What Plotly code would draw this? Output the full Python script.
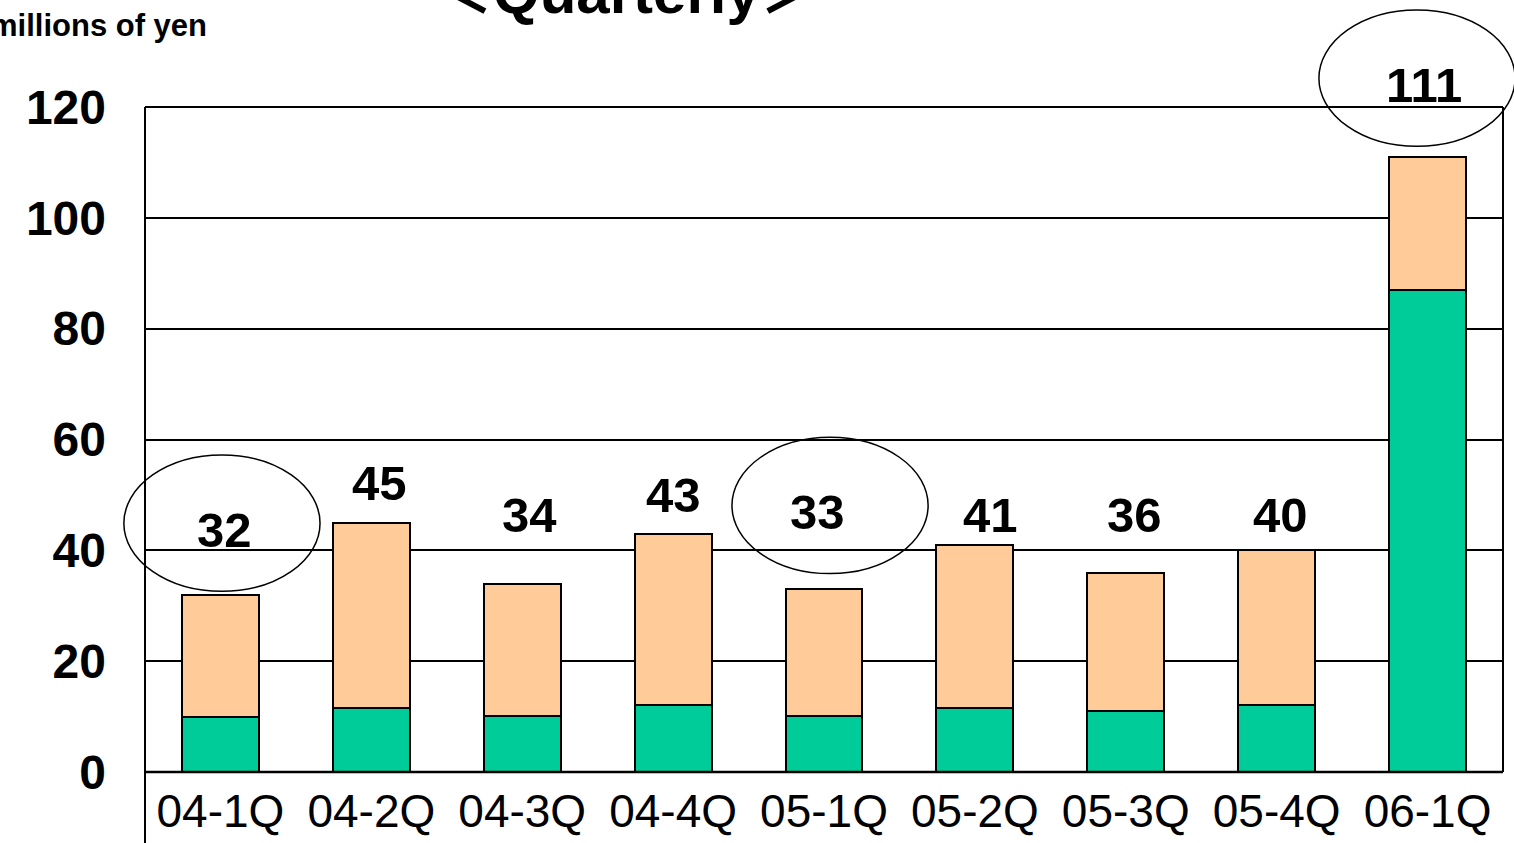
import plotly.graph_objects as go

categories = ["04-1Q", "04-2Q", "04-3Q", "04-4Q", "05-1Q", "05-2Q", "05-3Q", "05-4Q", "06-1Q"]
lower_values = [10, 11.6, 10.1, 12.1, 10.1, 11.6, 11, 12.1, 87]
totals = [32, 45, 34, 43, 33, 41, 36, 40, 111]
upper_values = [t - l for t, l in zip(totals, lower_values)]
y_ticks = [0, 20, 40, 60, 80, 100, 120]
circled = ["04-1Q", "05-1Q", "06-1Q"]

# label placement (layout, not data)
label_y = [43.7, 52.1, 46.4, 50.0, 46.9, 46.4, 46.4, 46.4, 124.0]
label_xshift = [4, 8, 7, 0, -7, 16, 9, 4, -4]
ellipse_dx = [0.01, 0.04, -0.07]

GREEN = "#00CC99"
PEACH = "#FFCC99"
YMAX = 120
W, H = 1514, 843
ML, MR, MT, MB = 145, 11, 107, 71
PW, PH = W - ML - MR, H - MT - MB

fig = go.Figure()
fig.add_trace(go.Bar(x=categories, y=lower_values, marker=dict(color=GREEN, line=dict(color="black", width=2)),
                     width=0.51, hoverinfo="skip"))
fig.add_trace(go.Bar(x=categories, y=upper_values, marker=dict(color=PEACH, line=dict(color="black", width=2)),
                     width=0.51, hoverinfo="skip"))

for i, (c, t) in enumerate(zip(categories, totals)):
    fig.add_annotation(x=c, y=label_y[i] / YMAX, xref="x", yref="paper", text=f"<b>{t}</b>", showarrow=False,
                       xshift=label_xshift[i], font=dict(family="Arial, Liberation Sans", size=49, color="black"),
                       yanchor="middle")

n = len(categories)
for k, c in enumerate(circled):
    i = categories.index(c)
    cx = (i + 0.5 + ellipse_dx[k]) / n
    cy = (label_y[i] + 1.2) / YMAX
    hw = 0.65 / n
    hh = 12.3 / YMAX
    fig.add_shape(type="circle", xref="paper", yref="paper", x0=cx - hw, x1=cx + hw, y0=cy - hh, y1=cy + hh,
                  line=dict(color="black", width=1.5), fillcolor="rgba(0,0,0,0)", layer="above")

# frame lines
fig.add_shape(type="line", xref="paper", yref="paper", x0=0, x1=0, y0=-0.12, y1=1, line=dict(color="black", width=2))
fig.add_shape(type="line", xref="paper", yref="paper", x0=1, x1=1, y0=0, y1=1, line=dict(color="black", width=2))
fig.add_shape(type="line", xref="paper", yref="paper", x0=0, x1=1, y0=1, y1=1, line=dict(color="black", width=2))
fig.add_shape(type="line", xref="paper", yref="paper", x0=0, x1=1, y0=0, y1=0, line=dict(color="black", width=2.5))

fig.add_annotation(x=(626 - ML) / PW, y=1 + (MT + 8) / PH, xref="paper", yref="paper", text="<b>＜Quarterly＞</b>",
                   showarrow=False, font=dict(family="Arial, Liberation Sans, Noto Sans CJK JP", size=60, color="black"),
                   xanchor="center", yanchor="middle")
fig.add_annotation(x=(209 - ML) / PW, y=1 + (MT - 26) / PH, xref="paper", yref="paper", text="<b>millions of yen</b>",
                   showarrow=False, font=dict(family="Arial, Liberation Sans", size=31, color="black"),
                   xanchor="right", yanchor="middle")

fig.update_layout(
    barmode="stack",
    width=W, height=H,
    margin=dict(l=ML, r=MR, t=MT, b=MB),
    paper_bgcolor="white", plot_bgcolor="white",
    showlegend=False,
    xaxis=dict(type="category", showgrid=False, showline=False, ticks="", zeroline=False,
               ticklabelstandoff=8, automargin=False,
               tickfont=dict(family="Arial, Liberation Sans", size=46, color="black")),
    yaxis=dict(range=[0, YMAX], tickvals=y_ticks, ticktext=[f"<b>{v}</b>" for v in y_ticks],
               showgrid=True, gridcolor="black", gridwidth=2, zeroline=False, showline=False, ticks="",
               ticklabelstandoff=38, automargin=False,
               tickfont=dict(family="Arial, Liberation Sans", size=48, color="black")),
)
fig.write_html("out.html", config={"displayModeBar": False},
               post_script="document.body.style.margin='0';document.body.style.overflow='hidden';")
